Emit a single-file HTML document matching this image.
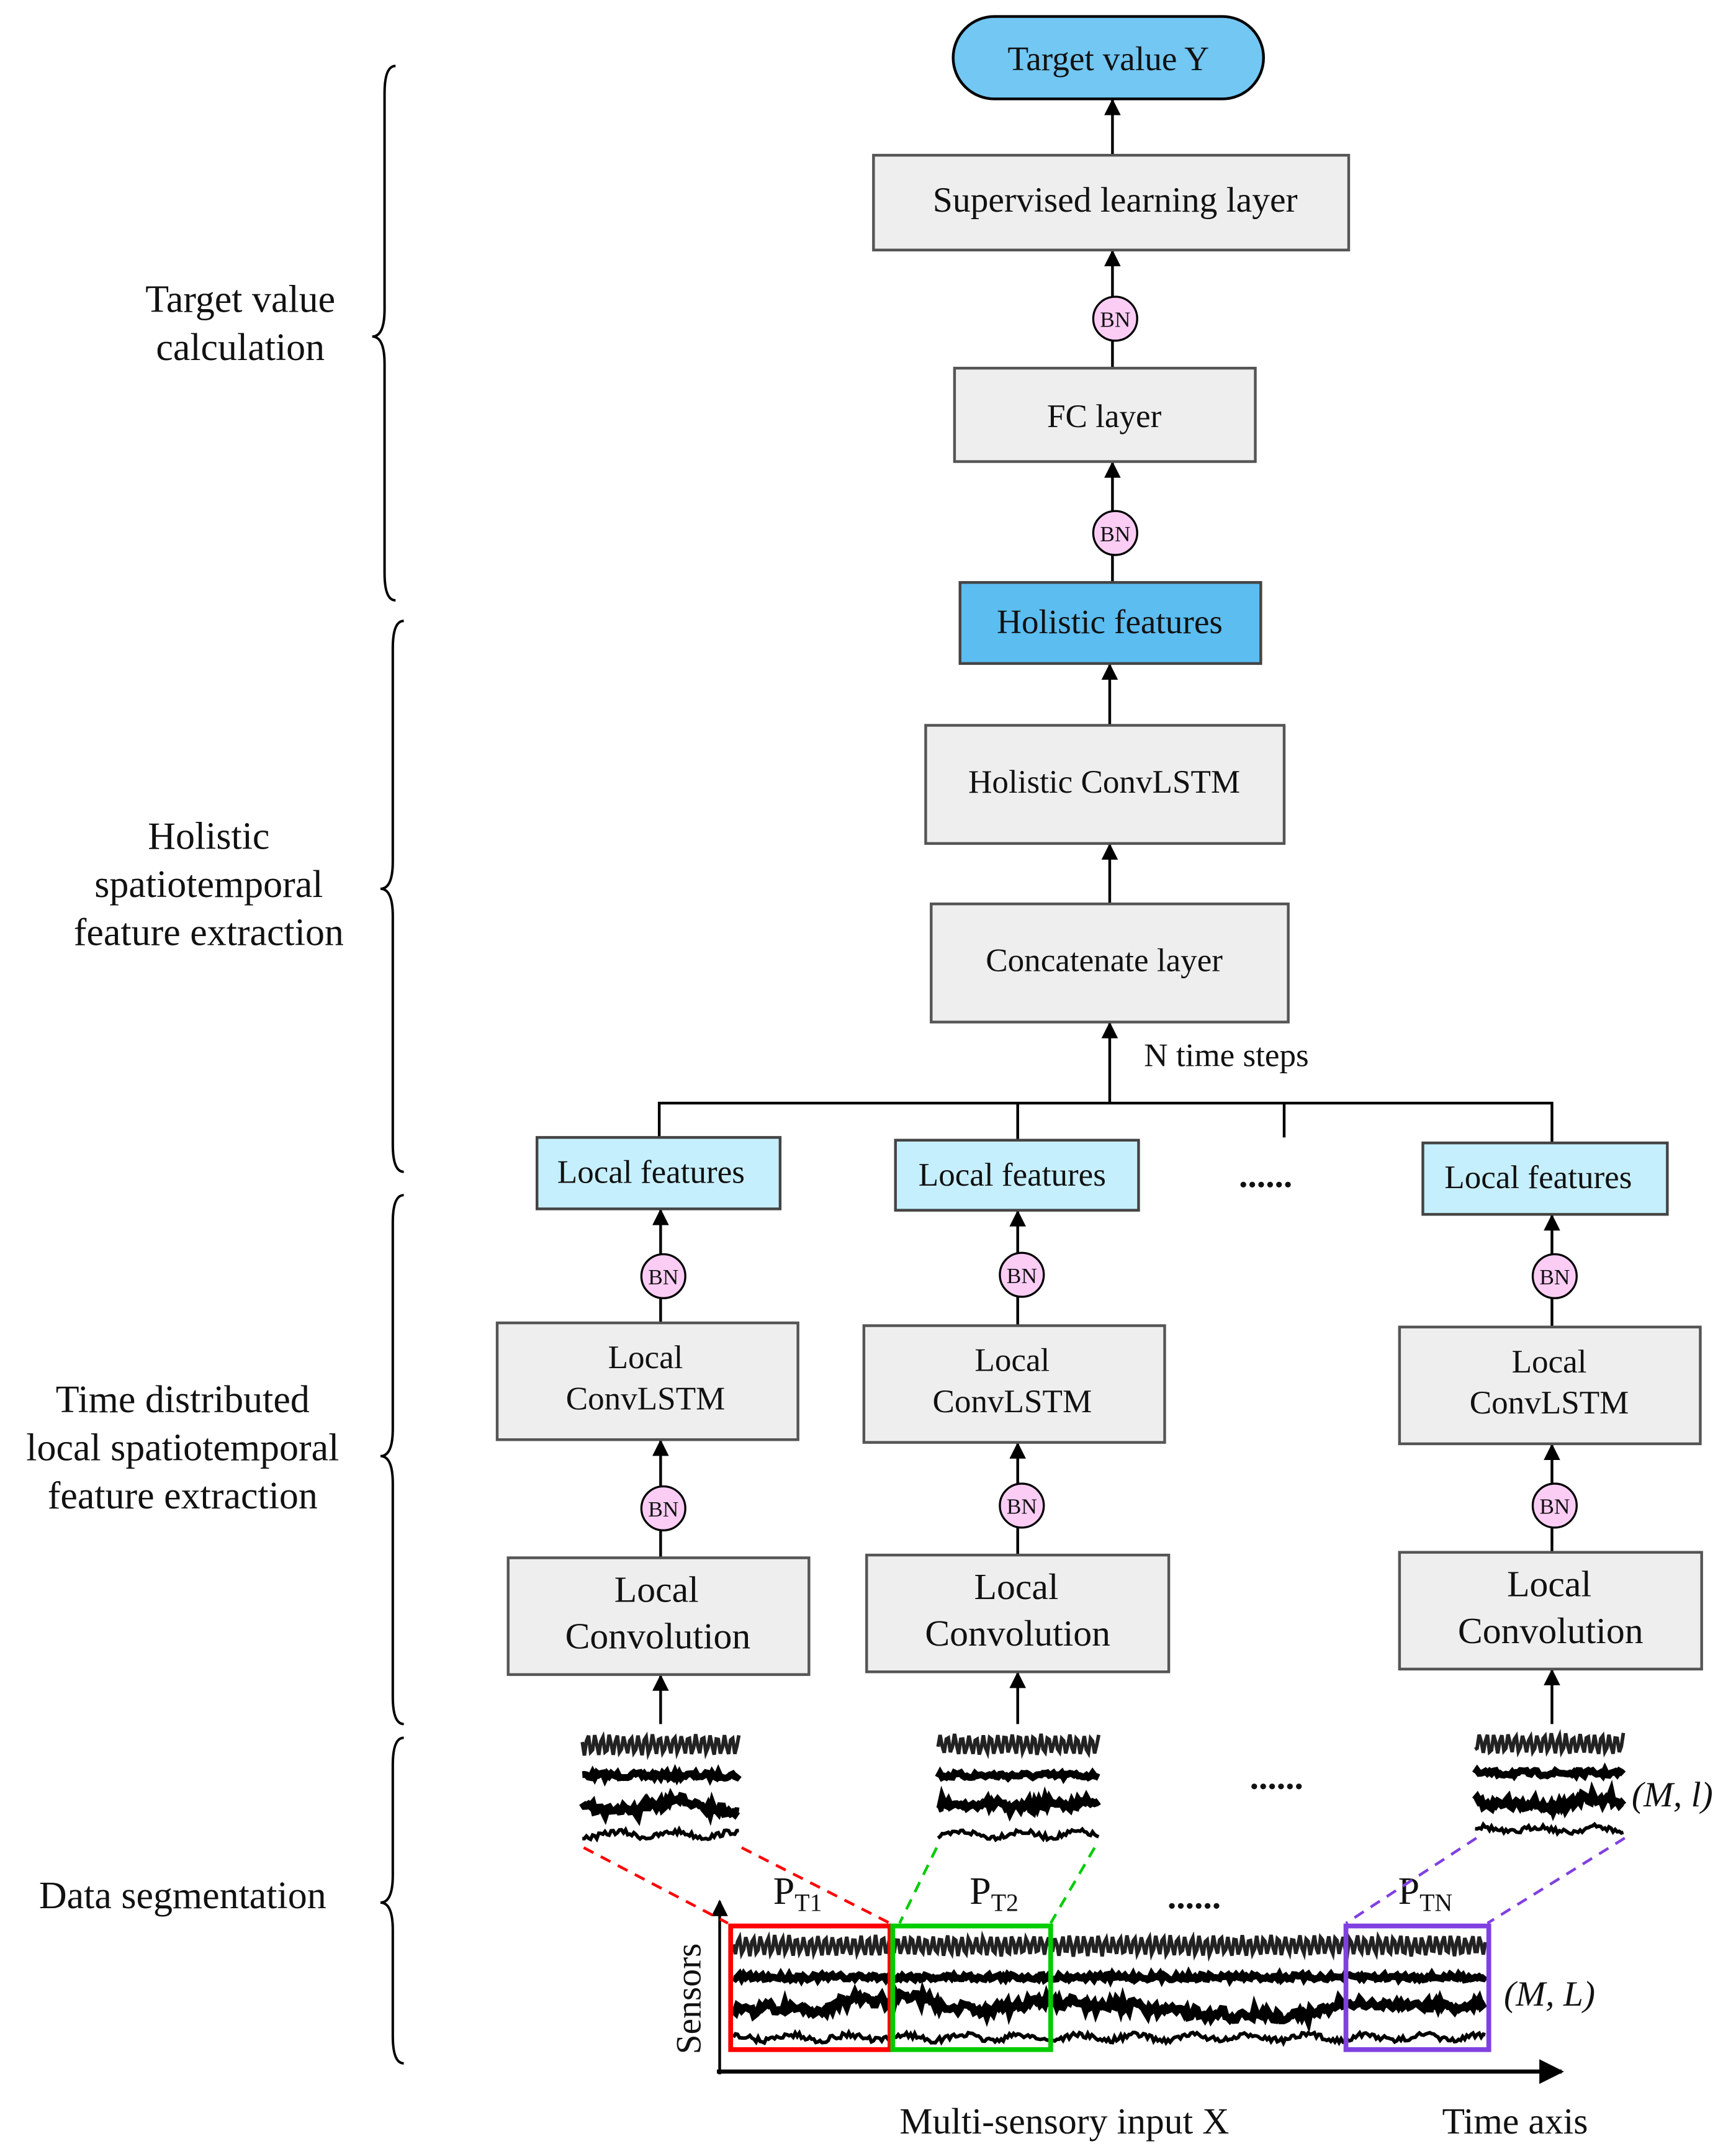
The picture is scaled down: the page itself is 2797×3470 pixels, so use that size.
<!DOCTYPE html>
<html><head><meta charset="utf-8"><style>
html,body{margin:0;padding:0;background:#fff;}
svg{display:block;}
text{font-family:"Liberation Serif",serif;fill:#111;}
</style></head><body>
<svg id="s" width="2797" height="3470" viewBox="0 0 1264 1568" preserveAspectRatio="none" xmlns="http://www.w3.org/2000/svg">
<defs>
<marker id="ah" viewBox="0 0 10 10" refX="9" refY="5" markerWidth="6.5" markerHeight="6" orient="auto"><path d="M0,0 L10,5 L0,10 z" fill="#000"/></marker>
</defs>
<g stroke="#000" stroke-width="1.8" fill="none">
<path d="M288,48 Q280,48 280,68 L280,225 Q280,245 271,245 Q280,245 280,265 L280,417 Q280,437 288,437"/>
<path d="M294,452 Q286,452 286,472 L286,627 Q286,647 277,647 Q286,647 286,667 L286,833 Q286,853 294,853"/>
<path d="M294,870 Q286,870 286,890 L286,1040 Q286,1060 277,1060 Q286,1060 286,1080 L286,1235 Q286,1255 294,1255"/>
<path d="M294,1265 Q286,1265 286,1285 L286,1365 Q286,1385 277,1385 Q286,1385 286,1405 L286,1482 Q286,1502 294,1502"/>
</g>
<g font-size="28" text-anchor="middle">
<text x="175" y="227">Target  value</text><text x="175" y="262">calculation</text>
<text x="152" y="618">Holistic</text><text x="152" y="653">spatiotemporal</text><text x="152" y="688">feature extraction</text>
<text x="133" y="1028">Time distributed</text><text x="133" y="1063">local spatiotemporal</text><text x="133" y="1098">feature extraction</text>
<text x="133" y="1389">Data segmentation</text>
</g>
<g stroke="#000" stroke-width="2" marker-end="url(#ah)">
<line x1="810" y1="113" x2="810" y2="73"/>
<line x1="810" y1="268" x2="810" y2="183"/>
<line x1="810" y1="424" x2="810" y2="337"/>
<line x1="808" y1="528" x2="808" y2="484"/>
<line x1="808" y1="658" x2="808" y2="615"/>
<line x1="808" y1="803" x2="808" y2="745"/>
<line x1="481" y1="963" x2="481" y2="881"/>
<line x1="741" y1="965" x2="741" y2="882"/>
<line x1="1130" y1="966" x2="1130" y2="885"/>
<line x1="481" y1="1134" x2="481" y2="1049"/>
<line x1="741" y1="1132" x2="741" y2="1051"/>
<line x1="1130" y1="1130" x2="1130" y2="1052"/>
<line x1="481" y1="1255" x2="481" y2="1220"/>
<line x1="741" y1="1255" x2="741" y2="1218"/>
<line x1="1130" y1="1255" x2="1130" y2="1216"/>
<line x1="524" y1="1510" x2="524" y2="1384"/>
<line x1="522" y1="1508" x2="1137" y2="1508" stroke-width="3"/>
</g>
<g stroke="#000" stroke-width="2" fill="none">
<path d="M480,828 L480,803 L1130,803 L1130,832 M741,803 L741,830 M935,803 L935,828"/>
</g>
<rect x="694" y="12" width="226" height="60" rx="30" fill="#72c7f3" stroke="#000" stroke-width="2"/>
<text x="807" y="51" font-size="25" text-anchor="middle">Target  value Y</text>
<g fill="#eeeeee" stroke="#555" stroke-width="2">
<rect x="636" y="113" width="346" height="69"/>
<rect x="695" y="268" width="219" height="68"/>
<rect x="674" y="528" width="261" height="86"/>
<rect x="678" y="658" width="260" height="86"/>
<rect x="362" y="963" width="219" height="85"/><rect x="629" y="965" width="219" height="85"/><rect x="1019" y="966" width="219" height="85"/>
<rect x="370" y="1134" width="219" height="85"/><rect x="631" y="1132" width="220" height="85"/><rect x="1019" y="1130" width="220" height="85"/>
</g>
<rect x="699" y="424" width="219" height="59" fill="#5cbdf0" stroke="#444" stroke-width="2"/>
<g fill="#c6effd" stroke="#444" stroke-width="2">
<rect x="391" y="828" width="177" height="52"/><rect x="652" y="830" width="177" height="51"/><rect x="1036" y="832" width="178" height="52"/>
</g>
<g fill="#fbcdf5" stroke="#000" stroke-width="1.5">
<circle cx="812" cy="232" r="16"/><circle cx="812" cy="388" r="16"/>
<circle cx="483" cy="929" r="16"/><circle cx="744" cy="928" r="16"/><circle cx="1132" cy="929" r="16"/>
<circle cx="483" cy="1098" r="16"/><circle cx="744" cy="1096" r="16"/><circle cx="1132" cy="1096" r="16"/>
</g>
<g font-size="16" text-anchor="middle" font-family="Liberation Sans">
<text x="812" y="238">BN</text><text x="812" y="394">BN</text>
<text x="483" y="935">BN</text><text x="744" y="934">BN</text><text x="1132" y="935">BN</text>
<text x="483" y="1104">BN</text><text x="744" y="1102">BN</text><text x="1132" y="1102">BN</text>
</g>
<g font-size="26" text-anchor="middle">
<text x="812" y="154">Supervised learning  layer</text>
<text x="804" y="311" font-size="24">FC layer</text>
<text x="808" y="461" font-size="25">Holistic  features</text>
<text x="804" y="577" font-size="24">Holistic ConvLSTM</text>
<text x="804" y="707" font-size="24">Concatenate layer</text>
<g font-size="24"><text x="474" y="861">Local features</text><text x="737" y="863">Local features</text><text x="1120" y="865">Local features</text></g>
<g font-size="24"><text x="470" y="996">Local</text><text x="470" y="1026">ConvLSTM</text>
<text x="737" y="998">Local</text><text x="737" y="1028">ConvLSTM</text>
<text x="1128" y="999">Local</text><text x="1128" y="1029">ConvLSTM</text></g>
<g font-size="27"><text x="478" y="1166">Local</text><text x="479" y="1200">Convolution</text>
<text x="740" y="1164">Local</text><text x="741" y="1198">Convolution</text>
<text x="1128" y="1162">Local</text><text x="1129" y="1196">Convolution</text></g>
</g>
<text x="833" y="776" font-size="24">N time steps</text>
<text x="902" y="864" font-size="26" font-weight="bold">......</text>
<text x="910" y="1302" font-size="26" font-weight="bold">......</text>
<text x="850" y="1389" font-size="26" font-weight="bold">......</text>
<text x="1188" y="1315" font-size="26" font-style="italic">(M, l)</text>
<text x="1095" y="1460" font-size="26" font-style="italic">(M, L)</text>
<text x="563" y="1386" font-size="28">P<tspan font-size="18" dy="5">T1</tspan></text>
<text x="706" y="1386" font-size="28">P<tspan font-size="18" dy="5">T2</tspan></text>
<text x="1018" y="1386" font-size="28">P<tspan font-size="18" dy="5">TN</tspan></text>
<text x="655" y="1553" font-size="27">Multi-sensory input X</text>
<text x="1050" y="1553" font-size="27">Time axis</text>
<text transform="translate(510,1455) rotate(-90)" font-size="26" text-anchor="middle">Sensors</text>
<g stroke-width="2" stroke-dasharray="8,6" fill="none">
<path d="M425,1345 L530,1400 M540,1345 L648,1400" stroke="#f00"/>
<path d="M682,1345 L655,1400 M797,1345 L765,1400" stroke="#0c0"/>
<path d="M1075,1338 L980,1400 M1183,1338 L1083,1400" stroke="#8040e0"/>
</g>
<g id="sig"></g>
<rect x="532" y="1402" width="116" height="90" fill="none" stroke="#f00" stroke-width="3.5"/>
<rect x="650" y="1402" width="115" height="90" fill="none" stroke="#0c0" stroke-width="3.5"/>
<rect x="980" y="1402" width="104" height="90" fill="none" stroke="#8040e0" stroke-width="3.5"/>
</svg>
<script>
(function(){
var g=document.getElementById('sig');var NS='http://www.w3.org/2000/svg';
var seed=7;function r(){seed=(seed*16807)%2147483647;return seed/2147483647-0.5;}
function block(x0,x1,y0,h){
 var rows=[[0.14,7,2.6,'#222'],[0.40,4,5,'#000'],[0.65,6,5.5,'#000'],[0.9,4,2.6,'#000']];
 rows.forEach(function(rw,i){
  var d='',yb=y0+rw[0]*h,w=0;
  for(var x=x0;x<=x1;x+=1.5){
   var y;
   if(i==0) y=yb+Math.sin(x*1.2)*rw[1]+r()*2;
   else if(i==2){w+=r()*1.2;w*=0.95;y=yb+w*3+r()*rw[1];}
   else y=yb+r()*rw[1]+ (i==3?Math.sin(x*0.15)*2:0);
   d+=(d?'L':'M')+x.toFixed(1)+','+y.toFixed(1);
  }
  var p=document.createElementNS(NS,'path');p.setAttribute('d',d);p.setAttribute('stroke',rw[3]);
  p.setAttribute('stroke-width',rw[2]);p.setAttribute('fill','none');g.appendChild(p);
 });
}
block(424,538,1258,86);block(683,800,1258,86);block(1074,1182,1258,82);block(534,1082,1404,88);
})();
</script>
</body></html>
